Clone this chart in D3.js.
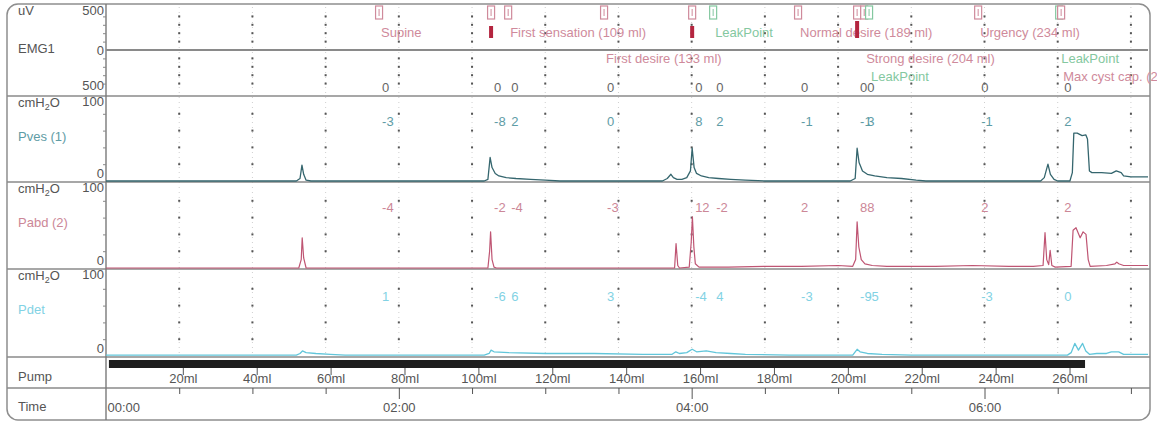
<!DOCTYPE html>
<html>
<head>
<meta charset="utf-8">
<script src="https://cdn.jsdelivr.net/npm/d3@7"></script>
<style>
  body { margin: 0; background: #fff; }
  svg text { font-family: "Liberation Sans", Arial, sans-serif; }
</style>
</head>
<body>
<svg id="chart" width="1157" height="423"></svg>
<script>
// Urodynamic filling study: EMG, Pves, Pabd and Pdet traces over time,
// with the pump volume scale and the time scale underneath.

// ---- data ----
const timeDomain = [0, 427];                         // seconds shown
const gridTimes = d3.range(30, 421, 30);             // dotted grid every 30 s
const timeTicks = d3.range(0, 421, 30);
const pumpVolumes = [20, 40, 60, 80, 100, 120, 140, 160, 180, 200, 220, 240, 260];
const pumpStart = 1.2;                               // s
const pumpStop = 401.2;                              // s
const pumpRate = 0.6605;                             // ml per s

const emgTrace = [[0, 0], [427, 0]];

const pvesTrace = [
  [0, 0], [78, 0], [79.5, 3], [80.3, 19], [81, 8], [82, 1], [84, 0],
  [155, 0], [156.5, 2], [157.4, 28], [158.2, 16], [159.5, 9], [161, 6], [164, 4], [168, 3], [174, 2], [180, 1], [186, 0],
  [228, 0], [230, 3], [231.5, 8], [232.5, 4], [234, 2], [236, 2], [238, 4], [239.5, 12], [240.2, 39], [241, 16], [242, 9],
  [244, 6], [247, 4], [251, 3], [256, 2], [262, 1], [270, 0],
  [305, 0], [307, 3], [307.8, 39], [308.6, 22], [310, 12], [312, 8], [315, 6], [320, 4], [326, 3], [332, 1], [336, 0],
  [383, 0], [384.5, 4], [386, 20], [387, 8], [388.5, 2], [390, 0], [395, 0], [396, 10], [396.6, 57], [398, 57],
  [400, 54], [401.5, 55], [402.2, 50], [403, 12], [404, 10], [408, 10], [412, 9], [414, 12], [416, 10], [417, 6],
  [420, 5], [427, 5]
];

const pabdTrace = [
  [0, 0], [79, 0], [80, 10], [80.4, 36], [81, 12], [82, 0],
  [156.5, 0], [157.2, 20], [157.6, 43], [158.2, 10], [159, 1], [160, 0],
  [233, 0], [233.6, 29], [234.3, 3], [235, 0], [239, 1], [239.8, 30], [240.3, 61], [240.9, 25], [241.5, 5], [243, 1],
  [255, 1], [270, 2], [285, 2], [300, 3], [306, 2], [307.2, 10], [307.8, 55], [308.5, 25], [309.5, 10], [311, 5],
  [314, 3], [320, 2], [340, 2], [355, 3], [370, 2], [380, 2], [384, 3], [384.8, 42], [385.5, 10], [386.3, 4],
  [386.9, 21], [387.6, 3], [389, 1], [395.5, 2], [396.3, 45], [397.5, 48], [399.2, 36], [400.4, 43], [401.6, 40],
  [402.5, 10], [403.3, 2], [410, 3], [413.5, 5], [414.2, 7], [415, 5], [417, 3], [427, 3]
];

const pdetTrace = [
  [0, 1], [78, 1], [79.5, 3], [80.5, 6], [82, 4], [86, 3], [92, 2], [98, 1],
  [155, 1], [157, 3], [157.8, 7], [159, 5], [165, 4], [180, 3], [200, 3], [220, 2], [232, 2], [233.5, 5], [235, 3],
  [238, 4], [240.2, 8], [242, 5], [246, 6], [250, 4], [256, 3], [262, 2], [280, 1],
  [306, 1], [307.8, 8], [309, 5], [312, 3], [318, 2], [330, 1],
  [394, 1], [395.5, 4], [397, 15], [398.5, 7], [400.2, 15], [401.5, 6], [403, 2], [406, 3], [410, 3],
  [412, 5], [415, 5], [417, 2], [427, 2]
];

// study events (markers along the top); null = no value readout for that marker
const eventTimes  = [111.9, 157.8, 164.8, 204.1, 240.2, 248.8, 283.6, 307.8, 310.7, 312.7, 357.4, 390.6, 391.4];
const eventLabels = ["Supine", "", "First sensation (109 ml)", "First desire (133 ml)", "", "LeakPoint",
                     "Normal desire (189 ml)", "", "Strong desire (204 ml)", "LeakPoint", "Urgency (234 ml)",
                     "LeakPoint", "Max cyst cap. (258 ml)"];
const eventRows   = [1, 0, 1, 2, 0, 1, 1, 0, 2, 3, 1, 2, 3];
const eventKinds  = ["note", "note", "note", "note", "note", "leak", "note", "note", "note", "leak", "note", "leak", "note"];
const eventBars   = [0, 1, 0, 0, 1, 0, 0, 2, 0, 0, 0, 0, 0];
const emgValues   = [0, 0, 0, 0, 0, 0, 0, 0, 0, null, 0, null, 0];
const pvesValues  = [-3, -8, 2, 0, 8, 2, -1, -1, 3, null, -1, null, 2];
const pabdValues  = [-4, -2, -4, -3, 12, -2, 2, 8, 8, null, 2, null, 2];
const pdetValues  = [1, -6, 6, 3, -4, 4, -3, -9, -5, null, -3, null, 0];

// ---- layout ----
const svg = d3.select("#chart");
const plotLeft = 106, plotRight = 1150;
const xs = d3.scaleLinear().domain(timeDomain).range([106, 1148]);

const colText = "#555";
const colPves = "#35666e", colPvesLbl = "#5e9ca5";
const colPabd = "#bf5573", colPabdLbl = "#cc8797";
const colPdet = "#62c6da", colPdetLbl = "#82d2e4";
const colLeak = "#84c8a0";
const colNote = "#cf8a9b";

const panels = {
  emg:  { top: 5,   bottom: 96,  y: d3.scaleLinear().domain([-500, 500]).range([92, 8]) },
  pves: { top: 96,  bottom: 182, y: d3.scaleLinear().domain([0, 100]).range([181, 97]) },
  pabd: { top: 182, bottom: 269, y: d3.scaleLinear().domain([0, 100]).range([268, 184]) },
  pdet: { top: 269, bottom: 357, y: d3.scaleLinear().domain([0, 100]).range([356, 272]) }
};

// frame
svg.append("rect")
  .attr("x", 7).attr("y", 4).attr("width", 1143).attr("height", 416).attr("rx", 11)
  .attr("fill", "#fff").attr("stroke", "#8e8e8e").attr("stroke-width", 1.5);

svg.append("defs").append("clipPath").attr("id", "plotClip")
  .append("rect").attr("x", plotLeft).attr("y", 4).attr("width", plotRight - plotLeft).attr("height", 354);

// dotted grid columns
const grid = svg.append("g");
grid.selectAll("line.g").data(gridTimes).join("line")
  .attr("x1", d => xs(d)).attr("x2", d => xs(d))
  .attr("y1", 7).attr("y2", 355)
  .attr("stroke", "#cfcfcf").attr("stroke-width", 1).attr("stroke-dasharray", "1,4");

const dotLevels = [];
[400, 300, 200, 100, -100, -200, -300, -400].forEach(v => dotLevels.push(panels.emg.y(v)));
["pves", "pabd", "pdet"].forEach(k => [20, 40, 60, 80].forEach(v => dotLevels.push(panels[k].y(v))));
gridTimes.forEach(t => {
  grid.selectAll(null).data(dotLevels).join("rect")
    .attr("x", xs(t) - 1).attr("y", d => d - 1).attr("width", 2).attr("height", 2)
    .attr("fill", "#555");
});

// panel separators
const sepYs = [96, 182, 269, 357, 388];
svg.selectAll("line.sep").data(sepYs).join("line")
  .attr("x1", 7).attr("x2", 1150).attr("y1", d => d).attr("y2", d => d)
  .attr("stroke", "#8a8a8a").attr("stroke-width", 1.6);
svg.append("line").attr("x1", plotLeft).attr("x2", plotLeft).attr("y1", 4).attr("y2", 420)
  .attr("stroke", "#7a7a7a").attr("stroke-width", 1.4);

// left y axes (small ticks only)
["pves", "pabd", "pdet"].forEach(k => {
  const g = svg.append("g").attr("transform", `translate(${plotLeft},0)`)
    .call(d3.axisLeft(panels[k].y).tickValues([20, 40, 60, 80]).tickSize(3).tickFormat(""));
  g.select(".domain").remove();
  g.selectAll("line").attr("stroke", "#888");
});
{
  const g = svg.append("g").attr("transform", `translate(${plotLeft},0)`)
    .call(d3.axisLeft(panels.emg.y).tickValues([400, 300, 200, 100, -100, -200, -300, -400]).tickSize(3).tickFormat(""));
  g.select(".domain").remove();
  g.selectAll("line").attr("stroke", "#888");
}

// left column labels
const lab = svg.append("g").attr("font-size", 13).attr("fill", colText);
function txt(x, y, s, anchor, color) {
  return lab.append("text").attr("x", x).attr("y", y).attr("text-anchor", anchor || "start")
    .attr("fill", color || colText).text(s);
}
txt(18, 15, "uV");
txt(104, 15, "500", "end");
txt(18, 53, "EMG1");
txt(104, 55, "0", "end");
txt(104, 90, "500", "end");

function unitLabel(y) {
  const t = lab.append("text").attr("x", 18).attr("y", y);
  t.append("tspan").text("cmH");
  t.append("tspan").attr("font-size", 9).attr("dy", 3).text("2");
  t.append("tspan").attr("dy", -3).text("O");
}
const channelNames = [["pves", "Pves (1)", colPvesLbl], ["pabd", "Pabd (2)", colPabdLbl], ["pdet", "Pdet", colPdetLbl]];
channelNames.forEach(([k, name, c]) => {
  const p = panels[k];
  unitLabel(p.top + 11);
  txt(104, p.top + 10, "100", "end");
  txt(104, p.bottom - 4, "0", "end");
  txt(18, p.top + 45, name, "start", c);
});
txt(18, 381, "Pump");
txt(18, 411, "Time");

// EMG baseline trace
const plot = svg.append("g").attr("clip-path", "url(#plotClip)");
plot.append("path").datum(emgTrace)
  .attr("d", d3.line().x(d => xs(d[0])).y(d => panels.emg.y(d[1])))
  .attr("fill", "none").attr("stroke", "#8a8a8a").attr("stroke-width", 2);

// pressure traces
function trace(data, key, color, w) {
  plot.append("path").datum(data)
    .attr("d", d3.line().x(d => xs(d[0])).y(d => panels[key].y(d[1])))
    .attr("fill", "none").attr("stroke", color).attr("stroke-width", w).attr("stroke-linejoin", "round");
}
trace(pvesTrace, "pves", colPves, 1.3);
trace(pabdTrace, "pabd", colPabd, 1.2);
trace(pdetTrace, "pdet", colPdet, 1.3);

// pump running bar
svg.append("rect")
  .attr("x", xs(pumpStart)).attr("y", 360)
  .attr("width", xs(pumpStop) - xs(pumpStart)).attr("height", 8)
  .attr("fill", "#1e1e1e");

// pump volume axis
const pumpScale = d3.scaleLinear()
  .domain([0, (timeDomain[1] - pumpStart) * pumpRate])
  .range([xs(pumpStart), xs(timeDomain[1])]);
const pumpAxis = svg.append("g").attr("transform", "translate(0,368)")
  .call(d3.axisBottom(pumpScale).tickValues(pumpVolumes).tickSize(7).tickPadding(-1).tickFormat(d => d + "ml"));
pumpAxis.select(".domain").remove();
pumpAxis.selectAll("line").attr("stroke", "#555");
pumpAxis.selectAll("text").attr("font-size", 13).attr("fill", colText)
  .attr("font-family", "Liberation Sans, Arial, sans-serif");

// time axis
const fmt2 = d3.format("02d");
const timeAxis = svg.append("g").attr("transform", "translate(0,388)")
  .call(d3.axisBottom(xs).tickValues(timeTicks).tickSize(6)
    .tickFormat(d => d % 120 === 0 ? fmt2(Math.floor(d / 60)) + ":" + fmt2(d % 60) : ""));
timeAxis.select(".domain").remove();
timeAxis.selectAll(".tick line").attr("stroke", "#555")
  .attr("y2", d => d % 120 === 0 ? 11 : 6);
timeAxis.selectAll(".tick").filter(d => d === 0).select("line").remove();
timeAxis.selectAll("text").attr("font-size", 13).attr("fill", colText).attr("y", 15)
  .attr("font-family", "Liberation Sans, Arial, sans-serif");
timeAxis.selectAll(".tick").filter(d => d === 0).select("text").attr("text-anchor", "start").attr("x", 1);

// event markers
const ev = svg.append("g").attr("font-size", 13);
const events = eventTimes.map((t, i) => ({
  t, label: eventLabels[i], row: eventRows[i], kind: eventKinds[i], bar: eventBars[i],
  emg: emgValues[i], pves: pvesValues[i], pabd: pabdValues[i], pdet: pdetValues[i]
}));
const rowY = { 1: 37, 2: 63, 3: 81 };

events.forEach(e => {
  const x = xs(e.t);
  const c = e.kind === "leak" ? colLeak : colNote;
  ev.append("rect").attr("x", x - 3.5).attr("y", 6).attr("width", 7).attr("height", 13)
    .attr("fill", "#fff").attr("stroke", c).attr("stroke-width", 1.2);
  ev.append("line").attr("x1", x).attr("x2", x).attr("y1", 9).attr("y2", 16)
    .attr("stroke", c).attr("stroke-width", 1);
  if (e.bar) {
    const top = e.bar === 2 ? 21 : 26;
    ev.append("rect").attr("x", x - 2).attr("y", top).attr("width", 4).attr("height", 38 - top)
      .attr("fill", "#b4253f");
  }
  if (e.label) {
    ev.append("text").attr("x", x + 2).attr("y", rowY[e.row])
      .attr("fill", e.kind === "leak" ? colLeak : colNote).text(e.label);
  }
  const readouts = [
    [e.emg, panels.emg.bottom - 4, "#666"],
    [e.pves, panels.pves.top + 30, colPvesLbl],
    [e.pabd, panels.pabd.top + 30, colPabdLbl],
    [e.pdet, panels.pdet.top + 32, colPdetLbl]
  ];
  readouts.forEach(([v, y, col]) => {
    if (v === null) return;
    ev.append("text").attr("x", x + 3).attr("y", y).attr("fill", col).text(v);
  });
});
</script>
</body>
</html>
